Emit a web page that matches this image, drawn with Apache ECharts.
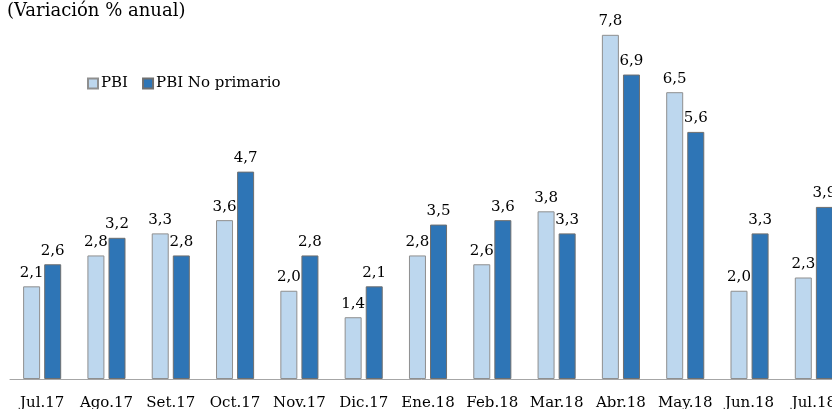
<!DOCTYPE html>
<html>
<head>
<meta charset="utf-8">
<script src="https://cdn.jsdelivr.net/npm/echarts@6/dist/echarts.min.js"></script>
<style>html,body{margin:0;padding:0;background:#fff;}#c{width:832px;height:409px;}</style>
</head>
<body>
<div id="c"></div>
<script>
var categories = ['Jul.17','Ago.17','Set.17','Oct.17','Nov.17','Dic.17','Ene.18','Feb.18','Mar.18','Abr.18','May.18','Jun.18','Jul.18'];
var pbi = [2.1, 2.8, 3.3, 3.6, 2.0, 1.4, 2.8, 2.6, 3.8, 7.8, 6.5, 2.0, 2.3];
var pbiNoPrimario = [2.6, 3.2, 2.8, 4.7, 2.8, 2.1, 3.5, 3.6, 3.3, 6.9, 5.6, 3.3, 3.9];
var titleText = '(Variación % anual)';

var font = 'DejaVu Serif';
var chart = echarts.init(document.getElementById('c'));
function fmt(p){ return p.value.toFixed(1).replace('.', ','); }
chart.setOption({
  animation: false,
  textStyle: { fontFamily: font },
  title: { text: titleText, left: 2, top: -3, textStyle: { fontFamily: font, fontSize: 18, fontWeight: 'normal', color: '#000' } },
  legend: {
    left: 82, top: 71, itemWidth: 10, itemHeight: 10, itemGap: 14,
    icon: 'rect',
    textStyle: { fontFamily: font, fontSize: 15, color: '#000', padding: [0,0,0,-2] },
    data: ['PBI', 'PBI No primario']
  },
  grid: { left: 10, width: 836, top: 26, bottom: 30, containLabel: false, outerBoundsMode: 'none' },
  xAxis: {
    type: 'category', data: categories,
    axisLine: { lineStyle: { color: '#A6A6A6', width: 1 } },
    axisTick: { show: false },
    axisLabel: { fontFamily: font, fontSize: 15, color: '#000', margin: 17, interval: 0 }
  },
  yAxis: { type: 'value', min: 0, max: 8, show: false, splitLine: { show: false } },
  series: [
    { name: 'PBI', type: 'bar', data: pbi, barWidth: 17, barGap: '24%',
      itemStyle: { color: '#BDD7EE', borderColor: '#8F8F8F', borderWidth: 1 },
      label: { show: true, position: 'top', distance: 6, formatter: fmt, fontFamily: font, fontSize: 15, color: '#000' } },
    { name: 'PBI No primario', type: 'bar', data: pbiNoPrimario, barWidth: 17,
      itemStyle: { color: '#2E75B6', borderColor: '#6F6F6F', borderWidth: 1 },
      label: { show: true, position: 'top', distance: 6, formatter: fmt, fontFamily: font, fontSize: 15, color: '#000' } }
  ]
});
</script>
</body>
</html>
